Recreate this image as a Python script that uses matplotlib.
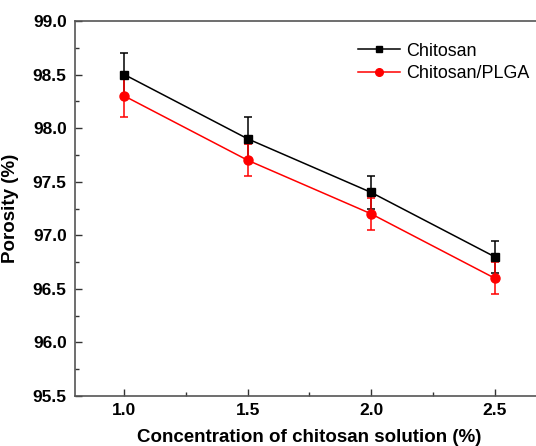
import matplotlib
matplotlib.use("Agg")
from matplotlib import pyplot as plt
from matplotlib.lines import Line2D
from matplotlib.ticker import MultipleLocator

conc = [1.0, 1.5, 2.0, 2.5]
chitosan = [98.5, 97.9, 97.4, 96.8]
chitosan_err = [0.2, 0.2, 0.15, 0.15]
plga = [98.3, 97.7, 97.2, 96.6]
plga_err = [0.2, 0.15, 0.15, 0.15]

plt.rcParams["font.family"] = ["Liberation Sans", "DejaVu Sans"]

fig = plt.figure(figsize=(5.36, 4.46), dpi=100)
ax = fig.add_axes([0.1399, 0.1121, 0.875, 0.8408])

ax.errorbar(conc, chitosan, yerr=chitosan_err, color="black", marker="s", markersize=6,
            linewidth=1.1, elinewidth=1.1, capsize=3, capthick=1.1)
ax.errorbar(conc, plga, yerr=plga_err, color="red", marker="o", markersize=6.5,
            linewidth=1.1, elinewidth=1.1, capsize=3, capthick=1.1)

ax.set_xlim(0.8, 2.7)
ax.set_ylim(95.5, 99.0)
ax.xaxis.set_major_locator(MultipleLocator(0.5))
ax.xaxis.set_minor_locator(MultipleLocator(0.25))
ax.yaxis.set_major_locator(MultipleLocator(0.5))
ax.yaxis.set_minor_locator(MultipleLocator(0.25))
ax.tick_params(which="both", direction="in", width=1, colors="#333333", labelcolor="black")
ax.tick_params(which="major", length=5)
ax.tick_params(which="minor", length=3)
for lab in ax.get_xticklabels() + ax.get_yticklabels():
    lab.set_fontweight("bold")
    lab.set_fontsize(12.5)
ax.tick_params(axis="x", pad=5)
ax.tick_params(axis="y", pad=6)
for s in ax.spines.values():
    s.set_color("#555555")
    s.set_linewidth(1.2)

ax.set_xlabel("Concentration of chitosan solution (%)", fontsize=13.5, fontweight="bold", labelpad=8)
ax.set_ylabel("Porosity (%)", fontsize=13.5, fontweight="bold", labelpad=10)

handles = [
    Line2D([], [], color="black", marker="s", markersize=5, linewidth=1.1),
    Line2D([], [], color="red", marker="o", markersize=5.5, linewidth=1.1),
]
ax.legend(handles, ["Chitosan", "Chitosan/PLGA"], loc="upper left", bbox_to_anchor=(0.57, 0.985),
          frameon=False, fontsize=12.9, handlelength=2.3, handletextpad=0.35, labelspacing=0.3)

fig.savefig("out.png", dpi=100)
